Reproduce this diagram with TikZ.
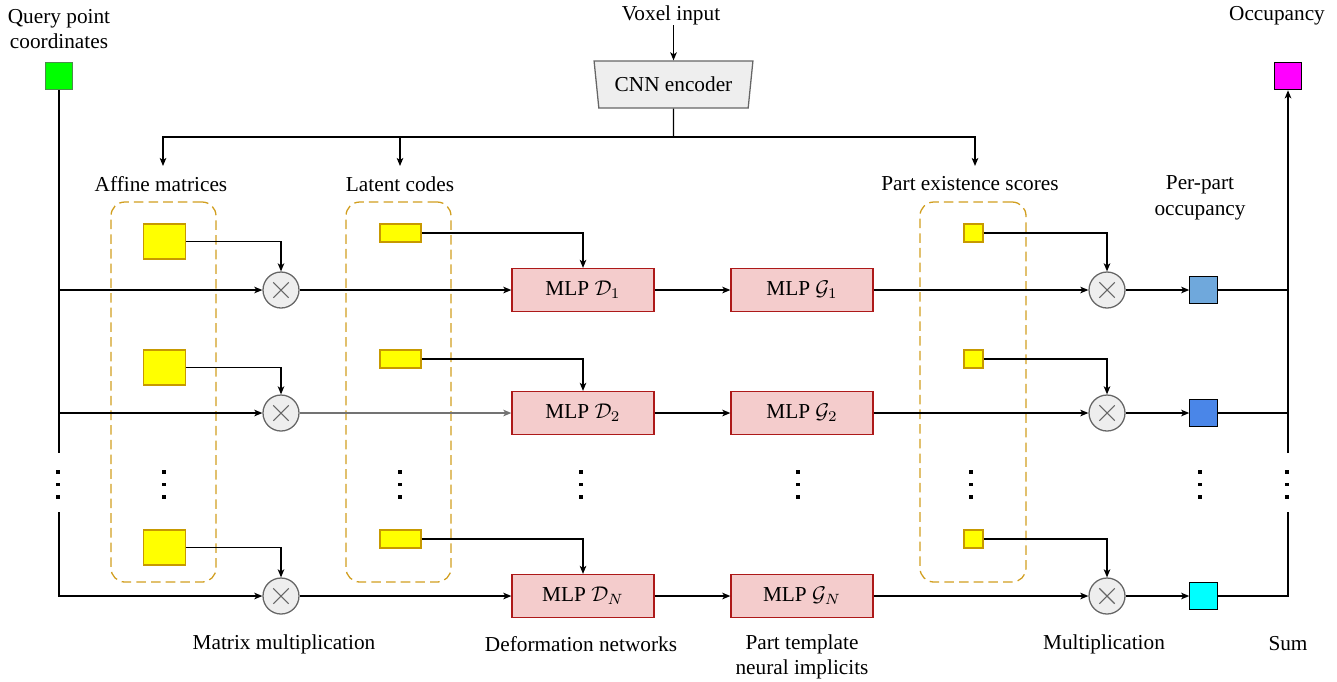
\documentclass[tikz,border=0pt]{standalone}
\usepackage{fontspec}
\setmainfont{Liberation Serif}
\usetikzlibrary{arrows.meta,shapes.geometric}

\newlength{\du}
\setlength{\du}{0.47pt}

\definecolor{yellowfill}{rgb}{1.000000, 1.000000, 0.000000}
\definecolor{yellowline}{rgb}{0.780000, 0.600000, 0.000000}
\definecolor{groupline}{rgb}{0.820000, 0.620000, 0.120000}
\definecolor{mlpfill}{rgb}{0.956000, 0.800000, 0.800000}
\definecolor{mlpline}{rgb}{0.680000, 0.100000, 0.100000}
\definecolor{opfill}{rgb}{0.933000, 0.933000, 0.933000}
\definecolor{opline}{rgb}{0.400000, 0.400000, 0.400000}
\definecolor{queryfill}{rgb}{0.000000, 1.000000, 0.000000}
\definecolor{queryline}{rgb}{0.300000, 0.550000, 0.300000}
\definecolor{occfill}{rgb}{1.000000, 0.000000, 1.000000}
\definecolor{partone}{rgb}{0.435000, 0.659000, 0.863000}
\definecolor{parttwo}{rgb}{0.290000, 0.525000, 0.910000}
\definecolor{partn}{rgb}{0.000000, 1.000000, 1.000000}

\tikzset{
  wire/.style={line width=0.6pt},
  conn/.style={line width=0.6pt, -{Stealth[length=3.8pt, width=3.1pt, inset=1pt]}},
  lbl/.style={align=center, inner sep=0pt},
  % three stacked dots drawn as small squares
  dotsn/.style={inner sep=0pt, minimum width=4\du, minimum height=30\du,
    path picture={
      \foreach \dy in {-12.5,0,12.5}
        \fill ([shift={(-1.6\du,\dy*\du-1.6\du)}]path picture bounding box.center) rectangle ++(3.2\du,3.2\du);
    }},
  sqbox/.style={draw, line width=0.5pt, inner sep=0pt, minimum width=27.5\du, minimum height=27.5\du},
  affsq/.style={draw=yellowline, fill=yellowfill, line width=0.5pt, inner sep=0pt, minimum width=42\du, minimum height=35\du},
  latsq/.style={draw=yellowline, fill=yellowfill, line width=0.5pt, inner sep=0pt, minimum width=41\du, minimum height=18\du},
  scsq/.style={draw=yellowline, fill=yellowfill, line width=0.5pt, inner sep=0pt, minimum width=19\du, minimum height=18\du},
  grp/.style={draw=groupline, dash pattern=on 4.5pt off 2.4pt, line width=0.6pt, rounded corners=6.5pt, inner sep=0pt, minimum height=380\du},
  mlp/.style={draw=mlpline, fill=mlpfill, line width=0.6pt, inner sep=0pt, minimum width=142\du, minimum height=43\du},
  mult/.style={circle, draw=opline, fill=opfill, line width=0.6pt, inner sep=0pt, minimum size=36\du,
    path picture={
      \draw[line width=0.5pt] ([shift={(-3.6pt,-3.6pt)}]path picture bounding box.center) -- ([shift={(3.6pt,3.6pt)}]path picture bounding box.center);
      \draw[line width=0.5pt] ([shift={(-3.6pt,3.6pt)}]path picture bounding box.center) -- ([shift={(3.6pt,-3.6pt)}]path picture bounding box.center);
    }},
  encoder/.style={trapezium, trapezium angle=76, shape border rotate=180, trapezium stretches=true,
    draw=opline, fill=opfill, line width=0.6pt, inner sep=0pt, minimum width=159\du, minimum height=47\du},
}

\begin{document}
\begin{tikzpicture}[x=1\du, y=-1\du]
\useasboundingbox (0,0) rectangle (1337,681);

% inputs, encoder, output
\node[lbl] (tquery) at (59,29) {Query point\\coordinates};
\node[sqbox, draw=queryline, fill=queryfill] (query) at (59,76) {};
\node[lbl] (tvoxel) at (671,15) {Voxel input};
\node[encoder] (cnn) at (673.5,84.5) {CNN encoder};
\node[lbl] (tocc) at (1277,16) {Occupancy};
\node[sqbox, fill=occfill] (occ) at (1288,76) {};

% group titles
\node[lbl] (taff) at (161,184) {Affine matrices};
\node[lbl] (tlat) at (400,184) {Latent codes};
\node[lbl] (tex) at (970,184) {Part existence scores};
\node[lbl] (tper) at (1200,198) {Per-part\\occupancy};

% dashed groups
\node[grp, minimum width=105\du] (gaff) at (163.5,392) {};
\node[grp, minimum width=105\du] (glat) at (398.5,392) {};
\node[grp, minimum width=106\du] (gex) at (973,392) {};

% part 1
\node[affsq] (a1) at (164.5,241.5) {};
\node[latsq] (l1) at (400.5,233) {};
\node[scsq] (s1) at (973.5,233) {};
\node[mult] (m1) at (281,290) {};
\node[mlp] (d1) at (583,290) {MLP $\mathcal{D}_1$};
\node[mlp] (g1) at (802,290) {MLP $\mathcal{G}_1$};
\node[mult] (p1) at (1107,290) {};
\node[sqbox, fill=partone] (o1) at (1203.5,290) {};

% part 2
\node[affsq] (a2) at (164.5,367.5) {};
\node[latsq] (l2) at (400.5,359) {};
\node[scsq] (s2) at (973.5,359) {};
\node[mult] (m2) at (281,413) {};
\node[mlp] (d2) at (583,413) {MLP $\mathcal{D}_2$};
\node[mlp] (g2) at (802,413) {MLP $\mathcal{G}_2$};
\node[mult] (p2) at (1107,413) {};
\node[sqbox, fill=parttwo] (o2) at (1203.5,413) {};

% part N
\node[affsq] (a3) at (164.5,547.5) {};
\node[latsq] (l3) at (400.5,539) {};
\node[scsq] (s3) at (973.5,539) {};
\node[mult] (m3) at (281,596) {};
\node[mlp] (d3) at (583,596) {MLP $\mathcal{D}_N$};
\node[mlp] (g3) at (802,596) {MLP $\mathcal{G}_N$};
\node[mult] (p3) at (1107,596) {};
\node[sqbox, fill=partn] (o3) at (1203.5,596) {};

% dots
\node[dotsn] (v0) at (58,484.5) {};
\node[dotsn] (v1) at (164,484.5) {};
\node[dotsn] (v2) at (400,484.5) {};
\node[dotsn] (v3) at (581,484.5) {};
\node[dotsn] (v4) at (798,484.5) {};
\node[dotsn] (v5) at (971,484.5) {};
\node[dotsn] (v6) at (1200,484.5) {};
\node[dotsn] (v7) at (1287,484.5) {};

% bottom titles
\node[lbl] (tmat) at (284,644) {Matrix multiplication};
\node[lbl] (tdef) at (581,644) {Deformation networks};
\node[lbl] (ttpl) at (802,657) {Part template\\neural implicits};
\node[lbl] (tmul) at (1104,644) {Multiplication};
\node[lbl] (tsum) at (1288,644) {Sum};

% free ends
\coordinate (bus) at (673.5,137);
\coordinate (inaff) at (163,166);
\coordinate (inlat) at (400,166);
\coordinate (inex) at (975,166);
\coordinate (q1) at (59,290);
\coordinate (q2) at (59,413);
\coordinate (qtop) at (59,453);
\coordinate (qbot) at (59,512);
\coordinate (r1) at (1288,290);
\coordinate (r2) at (1288,413);
\coordinate (rtop) at (1288,453);
\coordinate (rbot) at (1288,512);
\coordinate (r3) at (1288,596);

% encoder to groups
\draw[conn] (tvoxel.south -| cnn.north) -- (cnn.north);
\draw[wire] (cnn.south) -- (bus);
\draw[conn] (bus) -| (inaff);
\draw[conn] (bus) -| (inex);
\draw[conn] (bus -| inlat) -- (inlat);

% query point line
\draw[wire] (query.south) -- (qtop);
\draw[conn] (q1) -- (m1);
\draw[conn] (q2) -- (m2);
\draw[conn] (qbot) |- (m3);

% part 1 wires
\draw[conn] (a1.east) -| (m1.north);
\draw[conn] (m1) -- (d1);
\draw[conn] (l1.east) -| (d1.north);
\draw[conn] (d1) -- (g1);
\draw[conn] (g1) -- (p1);
\draw[conn] (s1.east) -| (p1.north);
\draw[conn] (p1) -- (o1);
\draw[wire] (o1) -- (r1);

% part 2 wires
\draw[conn] (a2.east) -| (m2.north);
\draw[conn, draw=black!55] (m2) -- (d2);
\draw[conn] (l2.east) -| (d2.north);
\draw[conn] (d2) -- (g2);
\draw[conn] (g2) -- (p2);
\draw[conn] (s2.east) -| (p2.north);
\draw[conn] (p2) -- (o2);
\draw[wire] (o2) -- (r2);

% part N wires
\draw[conn] (a3.east) -| (m3.north);
\draw[conn] (m3) -- (d3);
\draw[conn] (l3.east) -| (d3.north);
\draw[conn] (d3) -- (g3);
\draw[conn] (g3) -- (p3);
\draw[conn] (s3.east) -| (p3.north);
\draw[conn] (p3) -- (o3);
\draw[wire] (o3) -- (r3) -- (rbot);

% sum to occupancy
\draw[conn] (rtop) -- (occ.south);
\end{tikzpicture}
\end{document}
